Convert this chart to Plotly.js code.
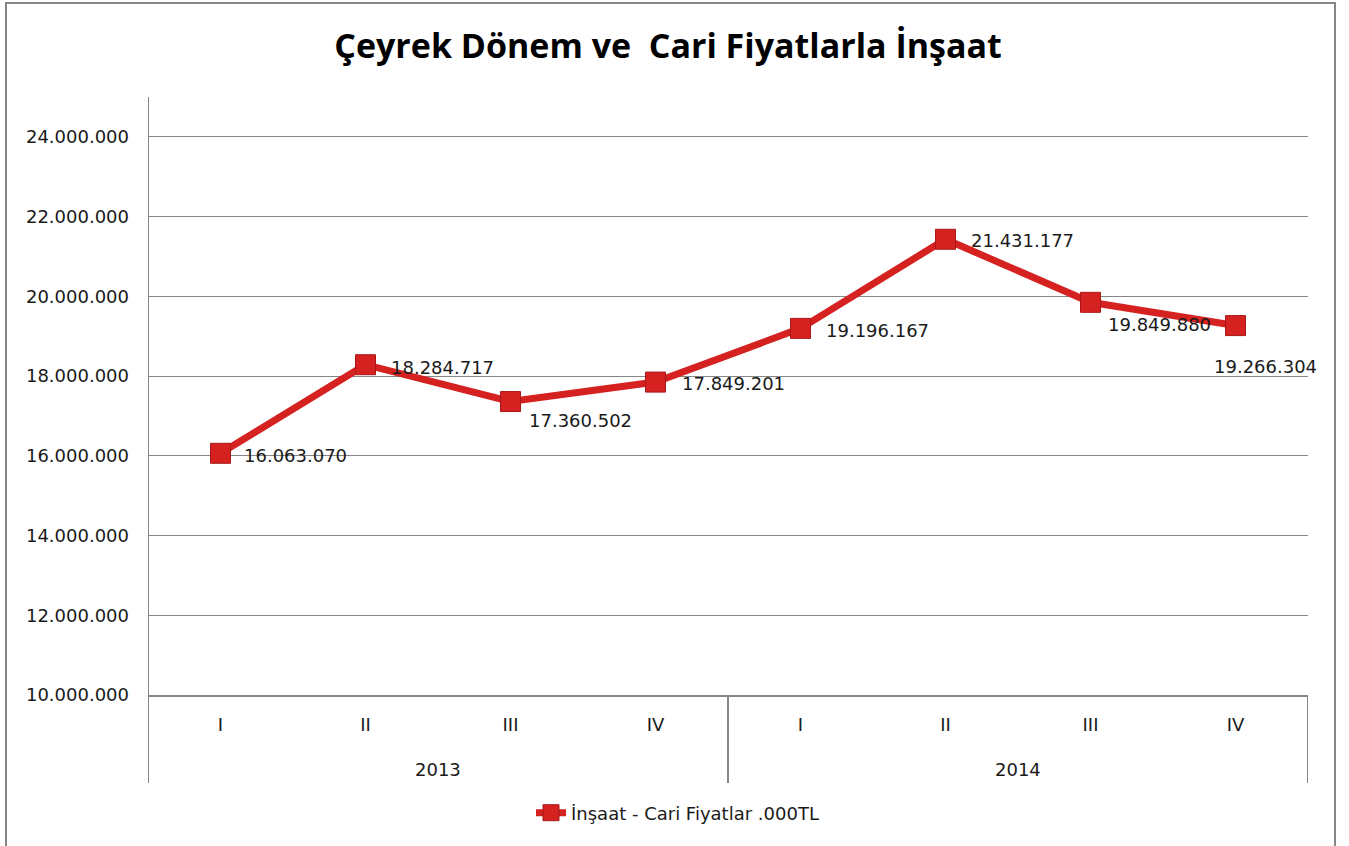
<!DOCTYPE html>
<html>
<head>
<meta charset="utf-8">
<script src="https://cdn.plot.ly/plotly-3.0.1.min.js"></script>
<style>html,body{margin:0;padding:0;background:#fff;}#chart{width:1349px;height:846px;}</style>
</head>
<body>
<div id="chart"></div>
<script>
// ---- data ----
const quarters = ["I", "II", "III", "IV", "I", "II", "III", "IV"];
const years = ["2013", "2014"];
const values = [16063070, 18284717, 17360502, 17849201, 19196167, 21431177, 19849880, 19266304];
const seriesName = "İnşaat - Cari Fiyatlar .000TL";
const chartTitle = "Çeyrek Dönem ve  Cari Fiyatlarla İnşaat";

// ---- label placement (style) ----
const labelOffsets = [[21, -2], [23, -3], [16, -19], [24, -1], [23, -2], [23, -1], [15, -22], [-24, -41]];

function fmt(v) {
  return String(Math.round(v)).replace(/\B(?=(\d{3})+(?!\d))/g, ".");
}

const idx = quarters.map((_, i) => i);
const gray = "#868686";
const red = "#d52220";
const lblFont = {family: "DejaVu Sans, Verdana, sans-serif", size: 18, color: "#1a1a1a"};

const trace = {
  x: idx,
  y: values,
  type: "scatter",
  mode: "lines+markers",
  name: seriesName,
  line: {color: red, width: 7},
  marker: {symbol: "square", size: 20, color: red, line: {color: "#a81818", width: 1}},
  showlegend: true,
  cliponaxis: false
};

const annotations = values.map((v, i) => ({
  x: i, y: v, xref: "x", yref: "y",
  text: fmt(v), showarrow: false,
  xanchor: "left", yanchor: "middle",
  xshift: labelOffsets[i][0], yshift: labelOffsets[i][1],
  font: lblFont
}));

const yearsBelow = -74 / 598;
years.forEach((yr, k) => {
  annotations.push({
    x: 1.5 + 4 * k, y: yearsBelow, xref: "x", yref: "paper",
    text: yr, showarrow: false, xanchor: "center", yanchor: "middle",
    font: lblFont
  });
});

const divBottom = -88 / 598;
const shapes = [
  // outer chart frame
  {type: "rect", xref: "paper", yref: "paper", x0: -142 / 1160, x1: 1187 / 1160, y0: -160 / 598, y1: 692 / 598,
   line: {color: gray, width: 2}, fillcolor: "rgba(0,0,0,0)", layer: "below"},
  // y axis line extended below category axis
  {type: "line", xref: "x", yref: "paper", x0: -0.5, x1: -0.5, y0: divBottom, y1: 1, line: {color: gray, width: 2}},
  // year dividers
  {type: "line", xref: "x", yref: "paper", x0: 3.5, x1: 3.5, y0: divBottom, y1: 0, line: {color: gray, width: 2}},
  {type: "line", xref: "x", yref: "paper", x0: 7.5, x1: 7.5, y0: divBottom, y1: 0, line: {color: gray, width: 2}}
];

const layout = {
  width: 1349, height: 846,
  paper_bgcolor: "#ffffff", plot_bgcolor: "#ffffff",
  margin: {l: 148, r: 41, t: 97, b: 151, pad: 0},
  separators: ",.",
  title: {
    text: "<b>" + chartTitle + "</b>",
    font: {family: "Open Sans, Noto Sans, sans-serif", size: 34, color: "#000"},
    x: 668 / 1349, xref: "container", xanchor: "center",
    y: 1 - 46 / 846, yref: "container", yanchor: "middle"
  },
  xaxis: {
    range: [-0.5, 7.5],
    tickmode: "array", tickvals: idx, ticktext: quarters,
    showgrid: false, zeroline: false,
    showline: true, linecolor: gray, linewidth: 2,
    ticks: "", ticklabelstandoff: 12,
    tickfont: lblFont, fixedrange: true
  },
  yaxis: {
    range: [10000000, 25000000],
    tick0: 10000000, dtick: 2000000,
    tickformat: ",d",
    showgrid: true, gridcolor: gray, gridwidth: 1,
    zeroline: false, showline: false,
    ticks: "", ticklabelstandoff: 18,
    tickfont: lblFont, fixedrange: true
  },
  showlegend: true,
  legend: {
    orientation: "h",
    x: (531 - 148) / 1160, xanchor: "left",
    y: (695 - 813) / 598, yanchor: "middle",
    font: lblFont, bgcolor: "rgba(0,0,0,0)",
    itemwidth: 30
  },
  annotations: annotations,
  shapes: shapes
};

Plotly.newPlot("chart", [trace], layout, {displayModeBar: false, staticPlot: true});
</script>
</body>
</html>
